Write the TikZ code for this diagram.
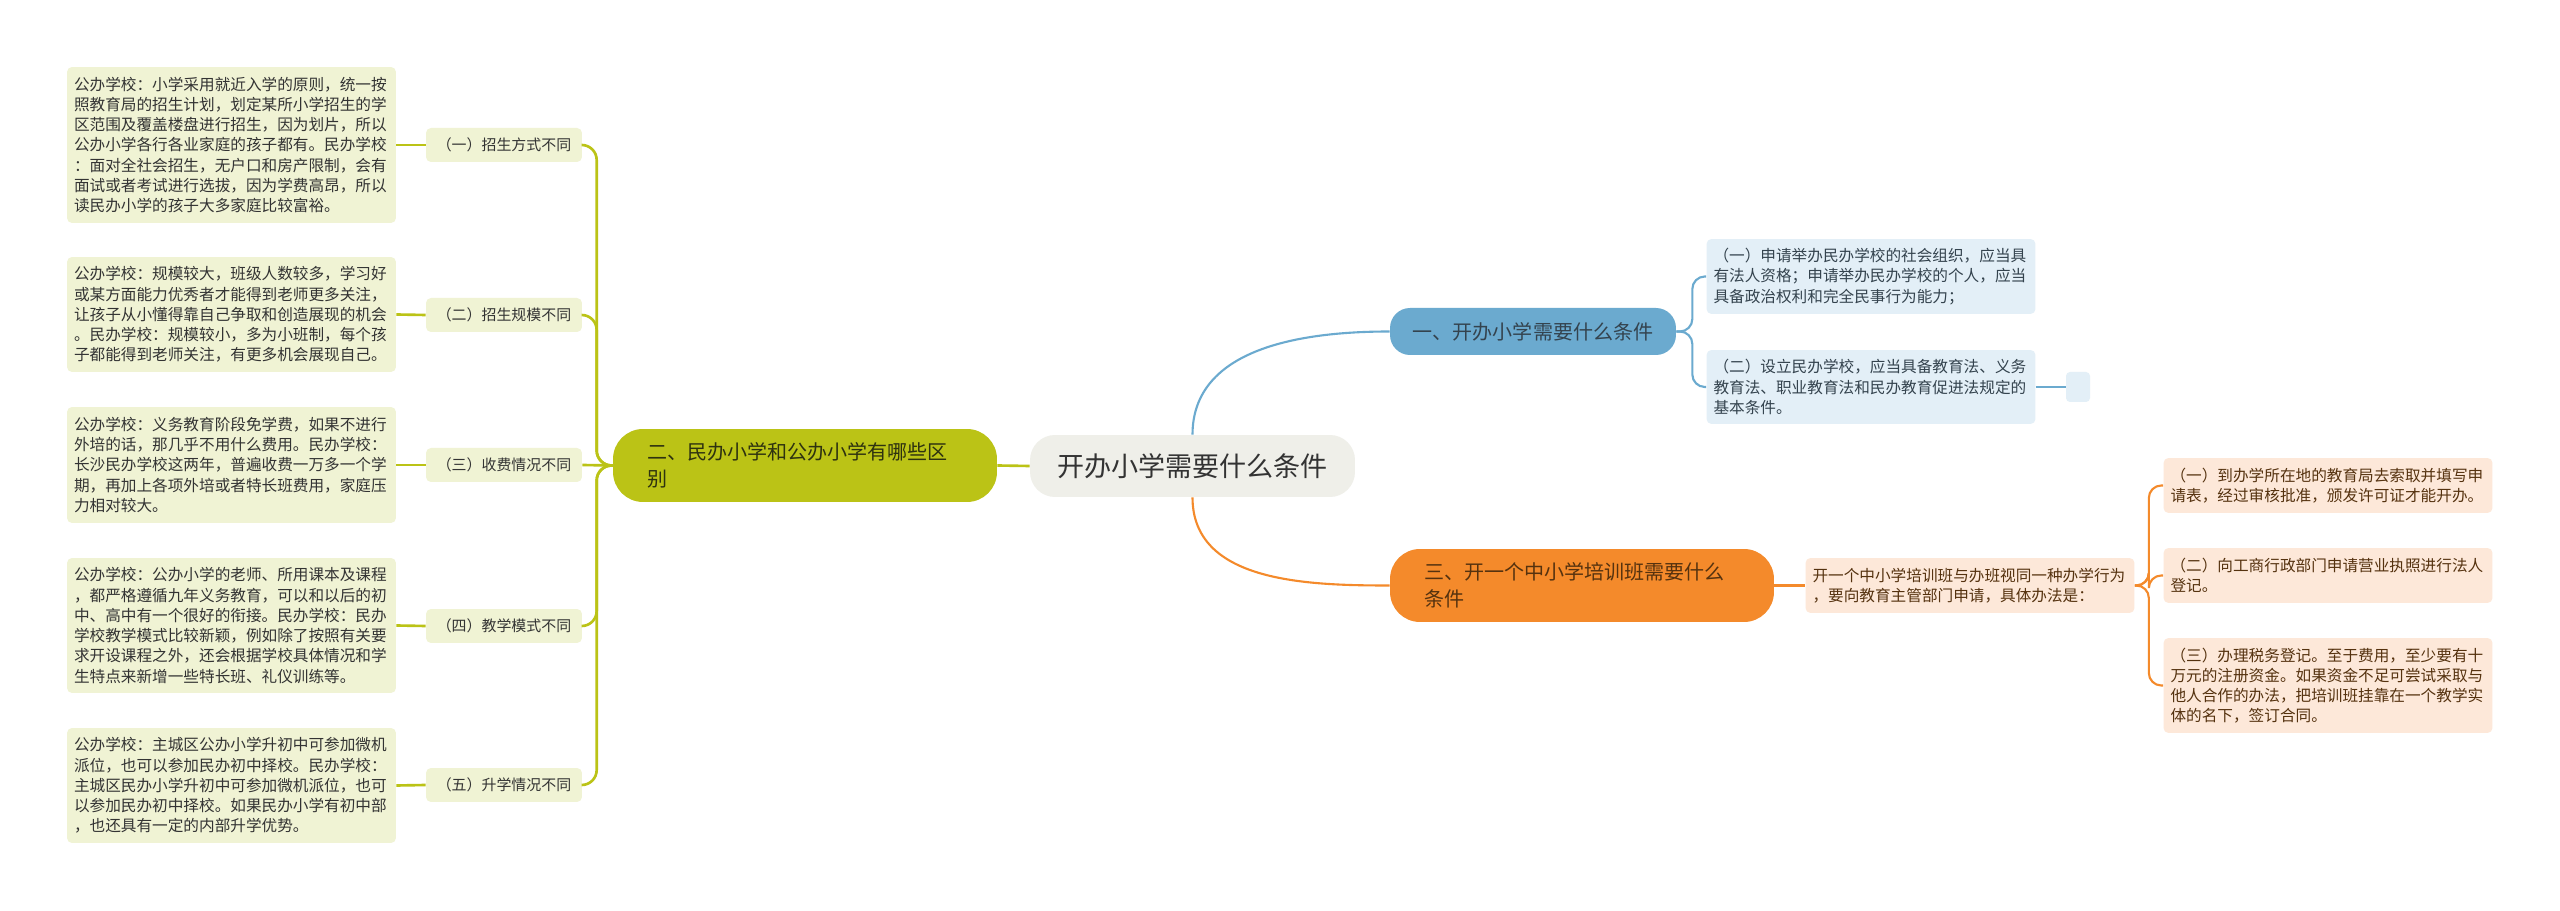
\documentclass[tikz,border=0pt]{standalone}
\usepackage{fontspec}
\newfontfamily\cjk{Noto Sans CJK SC}
\usetikzlibrary{calc}
\definecolor{rootgray}{HTML}{EFEFE9}
\definecolor{olivemain}{HTML}{BBC316}
\definecolor{oliveleaf}{HTML}{F0F3D4}
\definecolor{bluemain}{HTML}{6BAACF}
\definecolor{blueleaf}{HTML}{E3EFF7}
\definecolor{orangemain}{HTML}{F48A2B}
\definecolor{orangeleaf}{HTML}{FDE8D9}
\definecolor{inkgray}{HTML}{333333}
\definecolor{oliveink}{HTML}{2E3210}
\definecolor{blueink}{HTML}{34434E}
\definecolor{orangeink}{HTML}{55320F}

\begin{document}
\begin{tikzpicture}[
    x=0.02cm, y=0.02cm,
    every node/.style={font=\cjk, text=inkgray, inner sep=0pt},
    root/.style={rounded corners=0.5cm, fill=rootgray, minimum width=6.5cm, minimum height=1.24cm, font=\cjk\fontsize{15.4}{18}\selectfont},
    branch/.style={rounded corners=0.6cm, minimum width=7.68cm, minimum height=1.46cm, text width=6.3cm, align=left, font=\cjk\fontsize{11.4}{15.2}\selectfont},
    leaf/.style={rounded corners=0.1cm, text width=6.3cm, inner xsep=0.14cm, align=left, font=\cjk\fontsize{8.9}{11.5}\selectfont},
    tag/.style={rounded corners=0.1cm, fill=oliveleaf, minimum width=3.12cm, minimum height=0.68cm, font=\cjk\fontsize{8.5}{10}\selectfont},
    oline/.style={draw=olivemain, line width=1.5pt},
    bline/.style={draw=bluemain, line width=1.2pt},
    rline/.style={draw=orangemain, line width=1.2pt}
]
\fill[white] (0,0) rectangle (2560,-911);

% centre and main branches
\node[root] (root) at (1192.5,-466) {开办小学需要什么条件};
\node[branch, fill=olivemain, text=oliveink] (olive) at (805,-465.5) {二、民办小学和公办小学有哪些区\\别};
\node[rounded corners=0.4cm, fill=bluemain, text=blueink, minimum width=5.72cm, minimum height=0.94cm,
    font=\cjk\fontsize{11.4}{14}\selectfont] (blue) at (1533,-331.5) {一、开办小学需要什么条件};
\node[branch, fill=orangemain, text=orangeink] (orange) at (1582,-585.5) {三、开一个中小学培训班需要什么\\条件};

% left side
\node[tag] (tag1) at (504,-145) {（一）招生方式不同};
\node[tag] (tag2) at (504,-315) {（二）招生规模不同};
\node[tag] (tag3) at (504,-465) {（三）收费情况不同};
\node[tag] (tag4) at (504,-626) {（四）教学模式不同};
\node[tag] (tag5) at (504,-785) {（五）升学情况不同};

\node[leaf, fill=oliveleaf, minimum height=3.12cm] (leaf1) at (231.5,-145) {公办学校：小学采用就近入学的原则，统一按\\照教育局的招生计划，划定某所小学招生的学\\区范围及覆盖楼盘进行招生，因为划片，所以\\公办小学各行各业家庭的孩子都有。民办学校\\：面对全社会招生，无户口和房产限制，会有\\面试或者考试进行选拔，因为学费高昂，所以\\读民办小学的孩子大多家庭比较富裕。};
\node[leaf, fill=oliveleaf, minimum height=2.3cm] (leaf2) at (231.5,-314.5) {公办学校：规模较大，班级人数较多，学习好\\或某方面能力优秀者才能得到老师更多关注，\\让孩子从小懂得靠自己争取和创造展现的机会\\。民办学校：规模较小，多为小班制，每个孩\\子都能得到老师关注，有更多机会展现自己。};
\node[leaf, fill=oliveleaf, minimum height=2.32cm] (leaf3) at (231.5,-465) {公办学校：义务教育阶段免学费，如果不进行\\外培的话，那几乎不用什么费用。民办学校：\\长沙民办学校这两年，普遍收费一万多一个学\\期，再加上各项外培或者特长班费用，家庭压\\力相对较大。};
\node[leaf, fill=oliveleaf, minimum height=2.7cm] (leaf4) at (231.5,-625.5) {公办学校：公办小学的老师、所用课本及课程\\，都严格遵循九年义务教育，可以和以后的初\\中、高中有一个很好的衔接。民办学校：民办\\学校教学模式比较新颖，例如除了按照有关要\\求开设课程之外，还会根据学校具体情况和学\\生特点来新增一些特长班、礼仪训练等。};
\node[leaf, fill=oliveleaf, minimum height=2.3cm] (leaf5) at (231.5,-785.5) {公办学校：主城区公办小学升初中可参加微机\\派位，也可以参加民办初中择校。民办学校：\\主城区民办小学升初中可参加微机派位，也可\\以参加民办初中择校。如果民办小学有初中部\\，也还具有一定的内部升学优势。};

% right side
\node[leaf, fill=blueleaf, text=blueink, minimum height=1.5cm] (b1) at (1871,-276.5) {（一）申请举办民办学校的社会组织，应当具\\有法人资格；申请举办民办学校的个人，应当\\具备政治权利和完全民事行为能力；};
\node[leaf, fill=blueleaf, text=blueink, minimum height=1.48cm] (b2) at (1871,-387) {（二）设立民办学校，应当具备教育法、义务\\教育法、职业教育法和民办教育促进法规定的\\基本条件。};
\node[rounded corners=0.08cm, fill=blueleaf, minimum width=0.48cm, minimum height=0.6cm] (stub) at (2078,-387) {};

\node[leaf, fill=orangeleaf, text=orangeink, minimum height=1.1cm] (o0) at (1970,-585.5) {开一个中小学培训班与办班视同一种办学行为\\，要向教育主管部门申请，具体办法是：};
\node[leaf, fill=orangeleaf, text=orangeink, minimum height=1.1cm] (o1) at (2328,-485.5) {（一）到办学所在地的教育局去索取并填写申\\请表，经过审核批准，颁发许可证才能开办。};
\node[leaf, fill=orangeleaf, text=orangeink, minimum height=1.1cm] (o2) at (2328,-575.5) {（二）向工商行政部门申请营业执照进行法人\\登记。};
\node[leaf, fill=orangeleaf, text=orangeink, minimum height=1.9cm] (o3) at (2328,-685.5) {（三）办理税务登记。至于费用，至少要有十\\万元的注册资金。如果资金不足可尝试采取与\\他人合作的办法，把培训班挂靠在一个教学实\\体的名下，签订合同。};

% connectors
\draw[oline] (olive.east) -- (root.west);
\draw[oline] (olive.west) -- (tag3.east);
\foreach \i in {1,2,4,5}
    \draw[oline, rounded corners=0.3cm] (olive.west) -- ++(-16,0) |- (tag\i.east);
\foreach \i in {1,...,5}
    \draw[oline] (leaf\i.east) -- (tag\i.west);

\draw[bline] (root.north) to[out=90, in=180] (blue.west);
\foreach \b in {b1,b2}
    \draw[bline, rounded corners=0.25cm] (blue.east) -- ++(16,0) |- (\b.west);
\draw[bline] (b2.east) -- (stub.west);

\draw[rline] (root.south) to[out=-90, in=180] (orange.west);
\draw[rline] (orange.east) -- (o0.west);
\foreach \o in {o1,o2,o3}
    \draw[rline, rounded corners=0.25cm] (o0.east) -- ++(14,0) |- (\o.west);
\end{tikzpicture}
\end{document}
